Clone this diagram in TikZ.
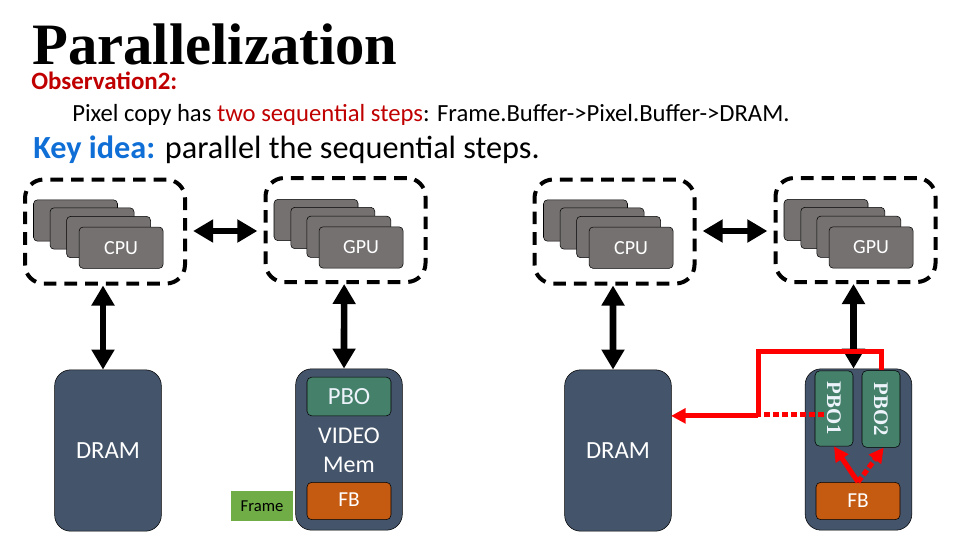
\documentclass[tikz,border=0pt]{standalone}
\usepackage{fontspec}
\setmainfont{Carlito}
\newfontfamily\titlefont{Liberation Serif}
\usetikzlibrary{arrows.meta,positioning}
\definecolor{slate}{HTML}{44546A}
\definecolor{pbogreen}{HTML}{44806A}
\definecolor{fborange}{HTML}{C55A11}
\definecolor{framegreen}{HTML}{70AD47}
\definecolor{cardgray}{HTML}{767171}
\definecolor{obsred}{HTML}{C00000}
\definecolor{keyblue}{HTML}{0F6FD6}
\definecolor{lightblue}{HTML}{EDF3FA}
\tikzset{
  card/.style={draw=black,fill=cardgray,rounded corners=3pt,minimum width=63pt,minimum height=31pt,inner sep=0pt,text=white,font=\fontsize{15}{17}\selectfont},
  group/.style={draw=black,line width=3pt,dash pattern=on 9.5pt off 6pt,rounded corners=14pt,minimum width=120pt,minimum height=78pt,inner sep=0pt},
  mem/.style={draw=black,fill=slate,rounded corners=12pt,minimum width=80pt,minimum height=121pt,inner sep=0pt,text=white,font=\fontsize{18.5}{22}\selectfont},
  pbo/.style={draw=black,fill=pbogreen,rounded corners=3.5pt,minimum width=63pt,minimum height=29pt,inner sep=0pt,text=lightblue,font=\fontsize{18.5}{21}\selectfont},
  pbov/.style={pbo,minimum height=28.5pt,rotate=-90,font=\titlefont\bfseries\fontsize{15.6}{18}\selectfont},
  fb/.style={draw=black,fill=fborange,rounded corners=3.5pt,minimum width=63pt,minimum height=28pt,inner sep=0pt,text=white,font=\fontsize{16}{18}\selectfont},
  dbl/.style={line width=5pt,{Triangle[width=16.5pt,length=15pt]}-{Triangle[width=16.5pt,length=15pt]}},
  redline/.style={draw=red,line width=3.75pt},
  redtip/.style={-{Triangle[width=11pt,length=11pt]}},
  reddots/.style={dash pattern=on 4.5pt off 2.25pt},
  txt/.style={inner sep=0pt,anchor=base west}
}
\begin{document}
\begin{tikzpicture}[x=0.75pt,y=-0.75pt,on grid]
   \useasboundingbox (0,0) rectangle (960,540);
   \node[txt,font=\titlefont\bfseries\fontsize{44}{48}\selectfont] (title) at (32,64) {Parallelization};
   \node[txt,font=\bfseries\fontsize{18.7}{22}\selectfont,text=obsred] (obs) at (31,89) {Observation2:};
   \node[txt,font=\fontsize{18.5}{22}\selectfont] (pix) at (72,121) {Pixel copy has \textcolor{obsred}{two sequential steps}: Frame.Buffer->Pixel.Buffer->DRAM.};
   \node[txt,font=\fontsize{24.2}{28}\selectfont] (key) at (33,158) {\textcolor{keyblue}{\bfseries Key idea:} parallel the sequential steps.};

   % left half
   \node[card] (c1) at (75.5,220.5) {};
   \node[card] (c2) [below right=6pt and 12.4pt of c1] {};
   \node[card] (c3) [below right=6.4pt and 12.4pt of c2] {};
   \node[card] (cpu) [below right=8pt and 9.4pt of c3] {CPU};
   \node[card] (g1) at (316,220) {};
   \node[card] (g2) [below right=6pt and 12.6pt of g1] {};
   \node[card] (g3) [below right=6.6pt and 12pt of g2] {};
   \node[card] (gpu) [below right=8pt and 9.2pt of g3] {GPU};
   \node[group] (cpus) at (105,231.5) {};
   \node[group] (gpus) at (345.5,230) {};
   \node[mem] (dram) at (108,450.5) {DRAM};
   \node[mem] (vmem) at (349,449.5) {};
   \node[pbo] (pbo) at (349,396.5) {PBO};
   \node[fb] (fb) at (349,501) {\raisebox{2pt}{FB}};
   \node[align=center,inner sep=0pt,text=white,font=\fontsize{18}{22}\selectfont] (vtext) at (349,450) {VIDEO\\Mem};
   \node[fill=framegreen,minimum width=46.5pt,minimum height=22.5pt,inner sep=0pt,font=\fontsize{12.5}{15}\selectfont] (frame) at (262,506) {Frame};
   \path[dbl,shorten >=4.6pt,shorten <=4.6pt]
    (cpus.east |- 0,231) edge (gpus.west |- 0,231);
   \path[dbl]
    ([xshift=-1.5pt]cpus.south) edge ([xshift=-3.75pt]dram.north)
    ([xshift=-1pt]gpus.south) edge ([xshift=-3.75pt]vmem.north);

   % right half
   \node[card] (rc1) at (585.5,220.5) {};
   \node[card] (rc2) [below right=6pt and 12.4pt of rc1] {};
   \node[card] (rc3) [below right=6.4pt and 12.4pt of rc2] {};
   \node[card] (rcpu) [below right=8pt and 9.4pt of rc3] {CPU};
   \node[card] (rg1) at (826,220) {};
   \node[card] (rg2) [below right=6pt and 12.6pt of rg1] {};
   \node[card] (rg3) [below right=6.6pt and 12pt of rg2] {};
   \node[card] (rgpu) [below right=8pt and 9.2pt of rg3] {GPU};
   \node[group] (rcpus) at (614.5,231.5) {};
   \node[group] (rgpus) at (855.5,230) {};
   \node[mem] (rdram) at (618,450.5) {DRAM};
   \node[mem] (rvmem) at (858.5,449.5) {};
   \node[pbov,minimum width=56.5pt] (pbo1) at (834,408.5) {PBO1};
   \node[pbov,minimum width=57.5pt] (pbo2) at (881,409) {PBO2};
   \node[fb] (rfb) at (858,501) {FB};
   \coordinate (drop) at (758,414);
   \coordinate (tip) at (671,414);
   \coordinate (pout) at (824,414);
   \path[dbl,shorten >=4.6pt,shorten <=4.6pt]
    (rcpus.east |- 0,231) edge (rgpus.west |- 0,231);
   \path[dbl]
    ([xshift=-1.1pt]rcpus.south) edge ([xshift=-3.75pt]rdram.north)
    ([xshift=-1.5pt]rgpus.south) edge ([xshift=-3.75pt]rvmem.north);

   % copy paths
   \draw[redline] (pbo2.west) -- ++(0,-19) -| (drop);
   \draw[redline,reddots] (pout) -- (drop);
   \draw[redline,redtip] ([yshift=-1.4pt]drop) -- ([yshift=-1.4pt]drop -| tip);
   \draw[redline,redtip] (rfb.north) -- (pbo1.east);
   \draw[redline,reddots,redtip] (rfb.north) -- ([xshift=2pt]pbo2.east);
\end{tikzpicture}
\end{document}
